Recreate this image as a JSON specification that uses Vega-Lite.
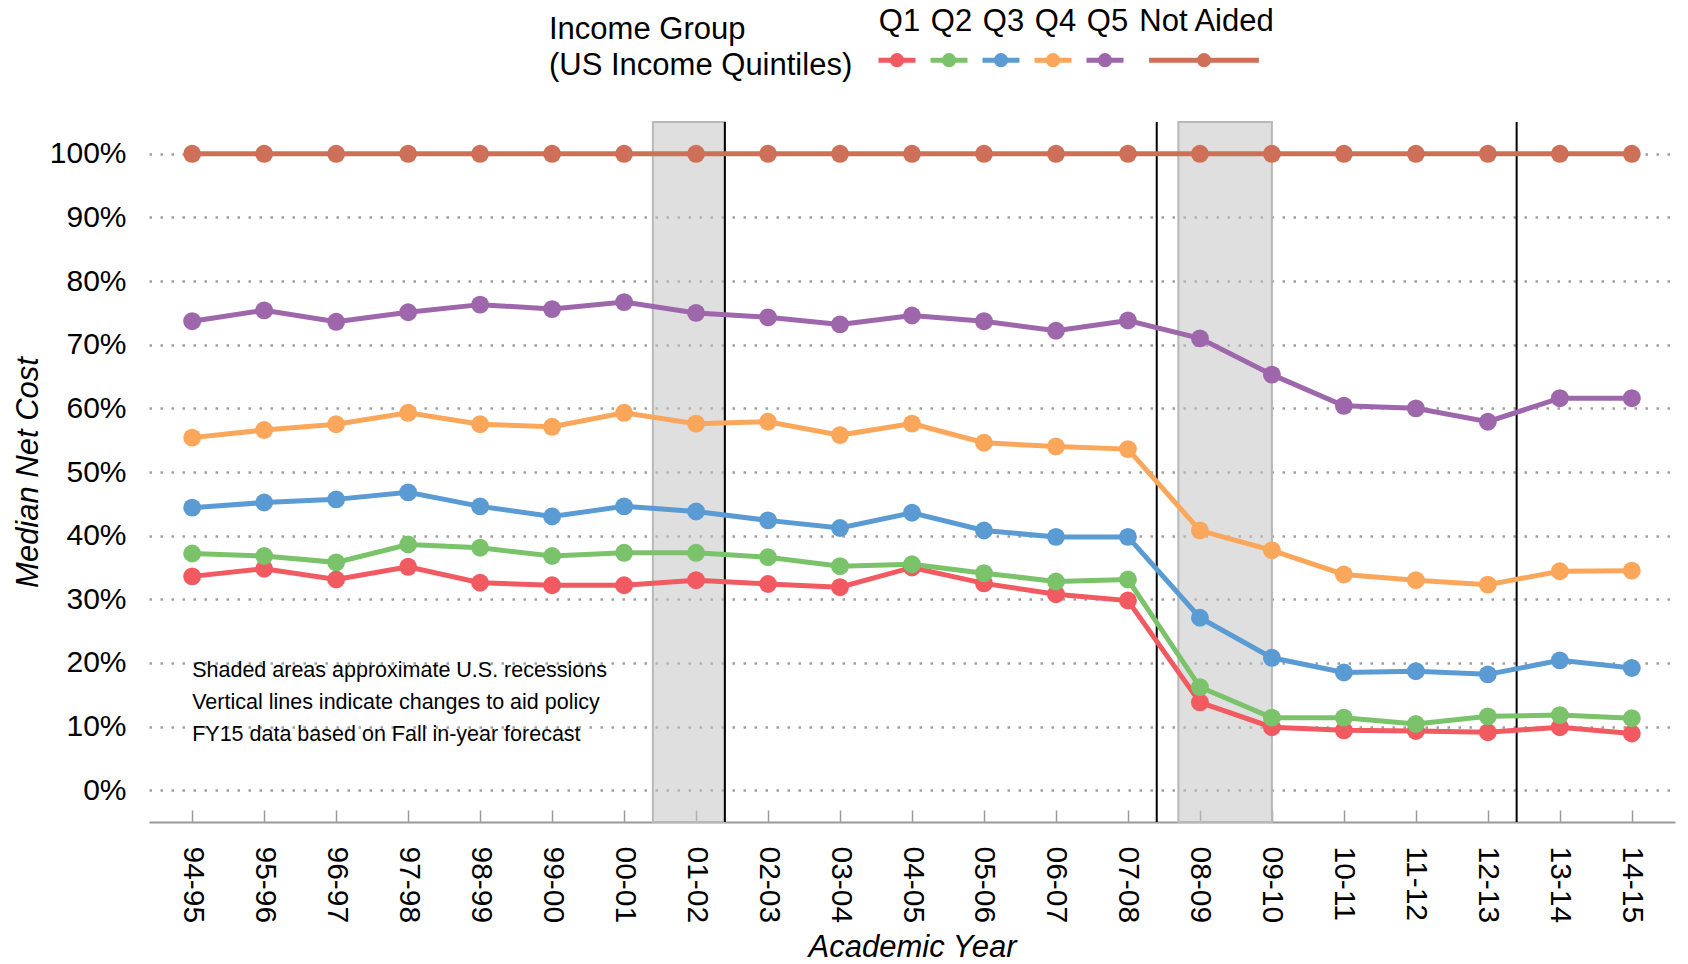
{
  "$schema": "https://vega.github.io/schema/vega-lite/v6.json",
  "width": 1526,
  "height": 700,
  "autosize": {"type": "none"},
  "padding": {"left": 149, "top": 122, "right": 13, "bottom": 142},
  "background": "white",
  "config": {"font": "Liberation Sans", "view": {"stroke": null}},
  "datasets": {
    "cost": [
      {"idx": 0, "year": "94-95", "Q1": 33.6, "Q2": 37.2, "Q3": 44.4, "Q4": 55.4, "Q5": 73.7, "Not Aided": 100},
      {"idx": 1, "year": "95-96", "Q1": 34.8, "Q2": 36.8, "Q3": 45.2, "Q4": 56.6, "Q5": 75.4, "Not Aided": 100},
      {"idx": 2, "year": "96-97", "Q1": 33.1, "Q2": 35.8, "Q3": 45.7, "Q4": 57.5, "Q5": 73.6, "Not Aided": 100},
      {"idx": 3, "year": "97-98", "Q1": 35.1, "Q2": 38.6, "Q3": 46.8, "Q4": 59.3, "Q5": 75.1, "Not Aided": 100},
      {"idx": 4, "year": "98-99", "Q1": 32.6, "Q2": 38.1, "Q3": 44.6, "Q4": 57.5, "Q5": 76.3, "Not Aided": 100},
      {"idx": 5, "year": "99-00", "Q1": 32.2, "Q2": 36.8, "Q3": 43.0, "Q4": 57.1, "Q5": 75.6, "Not Aided": 100},
      {"idx": 6, "year": "00-01", "Q1": 32.2, "Q2": 37.3, "Q3": 44.6, "Q4": 59.3, "Q5": 76.7, "Not Aided": 100},
      {"idx": 7, "year": "01-02", "Q1": 33.0, "Q2": 37.3, "Q3": 43.8, "Q4": 57.6, "Q5": 75.0, "Not Aided": 100},
      {"idx": 8, "year": "02-03", "Q1": 32.4, "Q2": 36.6, "Q3": 42.4, "Q4": 57.9, "Q5": 74.3, "Not Aided": 100},
      {"idx": 9, "year": "03-04", "Q1": 31.9, "Q2": 35.2, "Q3": 41.2, "Q4": 55.8, "Q5": 73.2, "Not Aided": 100},
      {"idx": 10, "year": "04-05", "Q1": 35.0, "Q2": 35.5, "Q3": 43.6, "Q4": 57.6, "Q5": 74.6, "Not Aided": 100},
      {"idx": 11, "year": "05-06", "Q1": 32.5, "Q2": 34.1, "Q3": 40.8, "Q4": 54.6, "Q5": 73.7, "Not Aided": 100},
      {"idx": 12, "year": "06-07", "Q1": 30.8, "Q2": 32.8, "Q3": 39.8, "Q4": 54.0, "Q5": 72.2, "Not Aided": 100},
      {"idx": 13, "year": "07-08", "Q1": 29.8, "Q2": 33.1, "Q3": 39.8, "Q4": 53.6, "Q5": 73.8, "Not Aided": 100},
      {"idx": 14, "year": "08-09", "Q1": 13.8, "Q2": 16.2, "Q3": 27.1, "Q4": 40.8, "Q5": 71.0, "Not Aided": 100},
      {"idx": 15, "year": "09-10", "Q1": 9.9, "Q2": 11.4, "Q3": 20.8, "Q4": 37.7, "Q5": 65.3, "Not Aided": 100},
      {"idx": 16, "year": "10-11", "Q1": 9.4, "Q2": 11.4, "Q3": 18.5, "Q4": 33.9, "Q5": 60.4, "Not Aided": 100},
      {"idx": 17, "year": "11-12", "Q1": 9.3, "Q2": 10.4, "Q3": 18.7, "Q4": 33.0, "Q5": 60.0, "Not Aided": 100},
      {"idx": 18, "year": "12-13", "Q1": 9.1, "Q2": 11.6, "Q3": 18.2, "Q4": 32.3, "Q5": 57.9, "Not Aided": 100},
      {"idx": 19, "year": "13-14", "Q1": 9.9, "Q2": 11.8, "Q3": 20.4, "Q4": 34.4, "Q5": 61.6, "Not Aided": 100},
      {"idx": 20, "year": "14-15", "Q1": 8.9, "Q2": 11.3, "Q3": 19.2, "Q4": 34.5, "Q5": 61.6, "Not Aided": 100}
    ],
    "recessions": [
      {"start": 6.4, "end": 7.4},
      {"start": 13.7, "end": 15.0}
    ],
    "policy": [
      {"at": 7.4},
      {"at": 13.4},
      {"at": 18.4}
    ]
  },
  "layer": [
    {
      "data": {"name": "recessions"},
      "mark": {"type": "rect", "fill": "#c4c4c4", "fillOpacity": 0.55, "stroke": "#b8b8b8", "strokeWidth": 2},
      "encoding": {
        "x": {"field": "start", "type": "quantitative", "scale": {"domain": [-0.6, 20.6], "nice": false, "zero": false}},
        "x2": {"field": "end"}
      }
    },
    {
      "data": {"name": "policy"},
      "mark": {"type": "rule", "color": "black", "strokeWidth": 2},
      "encoding": {
        "x": {"field": "at", "type": "quantitative"}
      }
    },
    {
      "data": {"values": [{}]},
      "mark": {"type": "text", "align": "left", "baseline": "middle", "fontSize": 21.5, "lineHeight": 32.3, "color": "black"},
      "encoding": {
        "x": {"datum": 0, "type": "quantitative"},
        "y": {"datum": 18.8, "type": "quantitative"},
        "text": {"value": ["Shaded areas approximate U.S. recessions", "Vertical lines indicate changes to aid policy", "FY15 data based on Fall in-year forecast"]}
      }
    },
    {
      "data": {"name": "cost"},
      "transform": [{"fold": ["Q1", "Q2", "Q3", "Q4", "Q5", "Not Aided"], "as": ["group", "cost"]}],
      "layer": [
        {
          "mark": {"type": "line", "strokeWidth": 5},
          "encoding": {
            "x": {
              "field": "idx", "type": "quantitative",
              "scale": {"domain": [-0.6, 20.6], "nice": false, "zero": false},
              "axis": {
                "title": "Academic Year", "titleFontSize": 31, "titleFontStyle": "italic", "titleFontWeight": "normal", "titleColor": "black", "titlePadding": 10,
                "values": [0,1,2,3,4,5,6,7,8,9,10,11,12,13,14,15,16,17,18,19,20],
                "labelExpr": "['94-95','95-96','96-97','97-98','98-99','99-00','00-01','01-02','02-03','03-04','04-05','05-06','06-07','07-08','08-09','09-10','10-11','11-12','12-13','13-14','14-15'][round(datum.value)]",
                "labelAngle": 90, "labelFontSize": 30, "labelColor": "black", "labelPadding": 36, "labelFlush": false, "labelOverlap": false,
                "tickSize": -12, "tickColor": "#9a9a9a", "tickWidth": 1.5,
                "domainColor": "#9a9a9a", "domainWidth": 2, "grid": false
              }
            },
            "y": {
              "field": "cost", "type": "quantitative",
              "scale": {"domain": [-5, 105], "nice": false, "zero": false},
              "axis": {
                "title": "Median Net Cost", "titleFontSize": 31, "titleFontStyle": "italic", "titleFontWeight": "normal", "titleColor": "black", "titlePadding": 5,
                "values": [0,10,20,30,40,50,60,70,80,90,100],
                "labelExpr": "datum.value + '%'",
                "labelFontSize": 30, "labelColor": "black", "labelPadding": 23,
                "ticks": false, "domain": false,
                "grid": true, "gridColor": "#a0a0a0", "gridDash": [2.5, 8.5], "gridWidth": 2.5
              }
            },
            "color": {
              "field": "group", "type": "nominal",
              "scale": {"domain": ["Q1", "Q2", "Q3", "Q4", "Q5", "Not Aided"], "range": ["#F15A60", "#7AC36A", "#5A9BD4", "#FAA75B", "#9E67AB", "#CE7058"]},
              "legend": {
                "orient": "none", "legendX": 400, "legendY": -83, "direction": "horizontal",
                "title": ["Income Group", "(US Income Quintiles)"],
                "titleOrient": "left", "titleFontSize": 31, "titleFontWeight": "normal", "titleColor": "black", "titleLineHeight": 36, "titlePadding": 23, "titleLimit": 600,
                "labelFontSize": 31, "labelColor": "black", "labelAlign": "center", "labelOffset": -18.5, "labelBaseline": "middle", "labelLimit": 0,
                "symbolType": "M-1,0H1M-0.25,0a0.25,0.25 0 1,0 0.5,0a0.25,0.25 0 1,0 -0.5,0M-0.065,0a0.065,0.065 0 1,0 0.13,0a0.065,0.065 0 1,0 -0.13,0",
                "symbolSize": 1369, "symbolStrokeWidth": 5,
                "columnPadding": -6,
                "encoding": {
                  "labels": {"dy": {"value": -38}},
                  "title": {"dy": {"value": -9}},
                  "symbols": {"shape": {"value": {"expr": "datum.value === 'Not Aided' ? 'M-3.54,0l0,0M-2.97,0H2.97M-0.25,0a0.25,0.25 0 1,0 0.5,0a0.25,0.25 0 1,0 -0.5,0M-0.065,0a0.065,0.065 0 1,0 0.13,0a0.065,0.065 0 1,0 -0.13,0' : 'M-1,0H1M-0.25,0a0.25,0.25 0 1,0 0.5,0a0.25,0.25 0 1,0 -0.5,0M-0.065,0a0.065,0.065 0 1,0 0.13,0a0.065,0.065 0 1,0 -0.13,0'"}}}
                }
              }
            }
          }
        },
        {
          "mark": {"type": "point", "filled": true, "size": 320, "opacity": 1},
          "encoding": {
            "x": {"field": "idx", "type": "quantitative"},
            "y": {"field": "cost", "type": "quantitative"},
            "color": {"field": "group", "type": "nominal"}
          }
        }
      ]
    }
  ]
}
